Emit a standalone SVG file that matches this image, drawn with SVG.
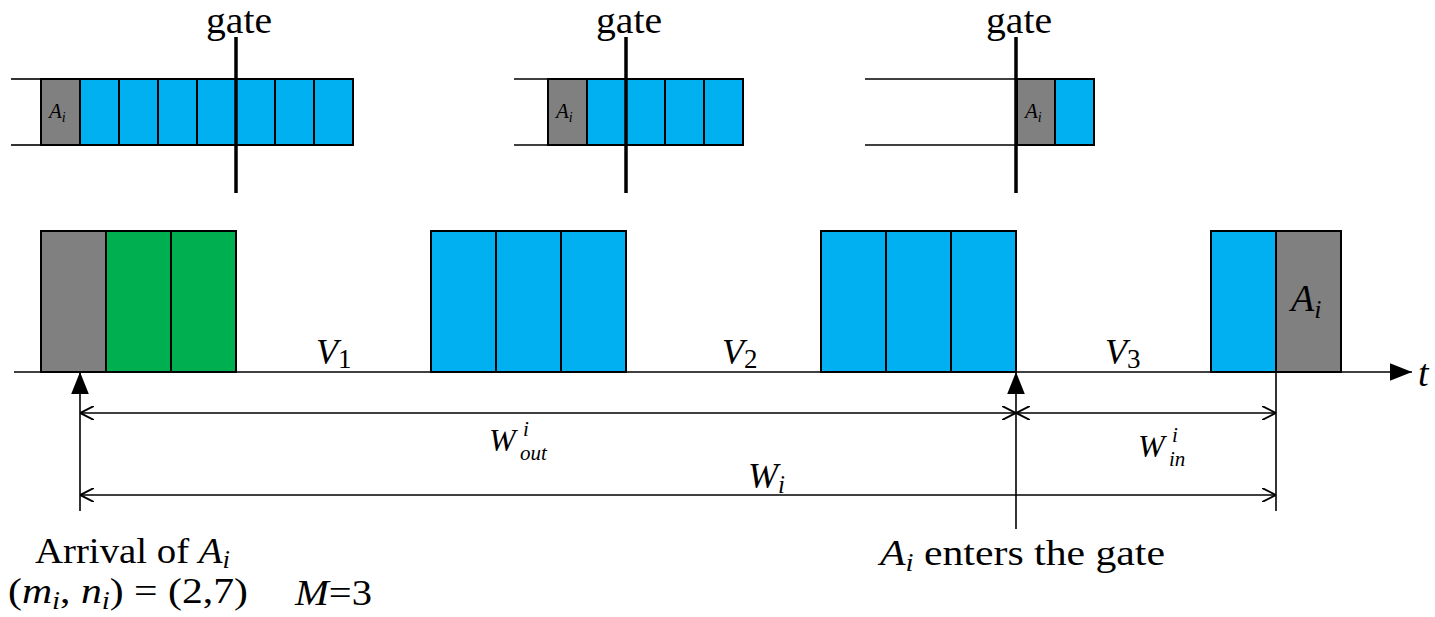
<svg xmlns="http://www.w3.org/2000/svg" width="1435" height="617" viewBox="0 0 1435 617">
<style>
.b{fill:#00b0f0;stroke:#000;stroke-width:2}
.g{fill:#808080;stroke:#000;stroke-width:2}
.gr{fill:#00b050;stroke:#000;stroke-width:2}
.ln{stroke:#000;stroke-width:1.6;fill:none}
.gate{stroke:#000;stroke-width:3.5}
.it{font-style:italic}
.gt{font-size:37px}
</style>
<defs>
<marker id="tri" viewBox="0 0 10 10" refX="10" refY="5" markerWidth="22" markerHeight="22" markerUnits="userSpaceOnUse" orient="auto"><path d="M0,1 L10,5 L0,9 z" fill="#000"/></marker>
<marker id="open" viewBox="0 0 10 10" refX="10" refY="5" markerWidth="14" markerHeight="14" markerUnits="userSpaceOnUse" orient="auto-start-reverse"><path d="M0,0 L10,5 L0,10" fill="none" stroke="#000" stroke-width="1.4"/></marker>
</defs>
<rect width="1435" height="617" fill="#fff"/>
<g style="font-family:'Liberation Serif',serif" fill="#000">

<g id="queue1">
<line class="ln" x1="11" y1="79" x2="41" y2="79"/><line class="ln" x1="11" y1="145" x2="41" y2="145"/>
<rect class="g" x="41" y="79" width="39" height="66"/>
<rect class="b" x="80" y="79" width="39" height="66"/><rect class="b" x="119" y="79" width="39" height="66"/><rect class="b" x="158" y="79" width="39" height="66"/><rect class="b" x="197" y="79" width="39" height="66"/><rect class="b" x="236" y="79" width="39" height="66"/><rect class="b" x="275" y="79" width="39" height="66"/><rect class="b" x="314" y="79" width="39" height="66"/>
<text x="49" y="118" class="it" font-size="21">A<tspan font-size="14" dy="4">i</tspan></text>
<line class="gate" x1="236" y1="37" x2="236" y2="193"/>
<text x="239" y="33" class="gt" text-anchor="middle" textLength="66" lengthAdjust="spacingAndGlyphs">gate</text>
</g>

<g id="queue2">
<line class="ln" x1="514" y1="79" x2="548" y2="79"/><line class="ln" x1="514" y1="145" x2="548" y2="145"/>
<rect class="g" x="548" y="79" width="39" height="66"/>
<rect class="b" x="587" y="79" width="39" height="66"/><rect class="b" x="626" y="79" width="39" height="66"/><rect class="b" x="665" y="79" width="39" height="66"/><rect class="b" x="704" y="79" width="39" height="66"/>
<text x="556" y="118" class="it" font-size="21">A<tspan font-size="14" dy="4">i</tspan></text>
<line class="gate" x1="626" y1="37" x2="626" y2="193"/>
<text x="629" y="33" class="gt" text-anchor="middle" textLength="66" lengthAdjust="spacingAndGlyphs">gate</text>
</g>

<g id="queue3">
<line class="ln" x1="865" y1="79" x2="1017" y2="79"/><line class="ln" x1="865" y1="145" x2="1017" y2="145"/>
<rect class="g" x="1017" y="79" width="38" height="66"/>
<rect class="b" x="1055" y="79" width="39" height="66"/>
<text x="1025" y="118" class="it" font-size="21">A<tspan font-size="14" dy="4">i</tspan></text>
<line class="gate" x1="1016" y1="37" x2="1016" y2="193"/>
<text x="1019" y="33" class="gt" text-anchor="middle" textLength="66" lengthAdjust="spacingAndGlyphs">gate</text>
</g>

<g id="block1">
<rect class="g" x="41" y="231" width="65" height="141"/>
<rect class="gr" x="106" y="231" width="65" height="141"/>
<rect class="gr" x="171" y="231" width="65" height="141"/>
</g>
<g id="block2">
<rect class="b" x="431" y="231" width="65" height="141"/><rect class="b" x="496" y="231" width="65" height="141"/><rect class="b" x="561" y="231" width="65" height="141"/>
</g>
<g id="block3">
<rect class="b" x="821" y="231" width="65" height="141"/><rect class="b" x="886" y="231" width="65" height="141"/><rect class="b" x="951" y="231" width="65" height="141"/>
</g>
<g id="block4">
<rect class="b" x="1211" y="231" width="65" height="141"/>
<rect class="g" x="1276" y="231" width="65" height="141"/>
<text x="1291" y="311" class="it" font-size="38">A<tspan font-size="26" dy="7">i</tspan></text>
</g>

<g id="labels">
<text x="316" y="364" class="it" font-size="36">V<tspan font-style="normal" font-size="27" dy="4">1</tspan></text>
<text x="722" y="364" class="it" font-size="36">V<tspan font-style="normal" font-size="27" dy="4">2</tspan></text>
<text x="1105" y="364" class="it" font-size="36">V<tspan font-style="normal" font-size="27" dy="4">3</tspan></text>
<text x="1418" y="386" class="it" font-size="38">t</text>
<text x="489" y="451" class="it" font-size="32">W</text>
<text x="523" y="436" class="it" font-size="21">i</text>
<text x="520" y="460" class="it" font-size="21">out</text>
<text x="1138" y="457" class="it" font-size="32">W</text>
<text x="1172" y="442" class="it" font-size="21">i</text>
<text x="1169" y="466" class="it" font-size="21">in</text>
<text x="748" y="488" class="it" font-size="36">W<tspan font-size="25" dy="5">i</tspan></text>
<text x="35" y="563" font-size="36" textLength="195" lengthAdjust="spacingAndGlyphs">Arrival of <tspan class="it">A</tspan><tspan class="it" font-size="25" dy="5">i</tspan></text>
<text x="8" y="603" font-size="36" textLength="240" lengthAdjust="spacingAndGlyphs">(<tspan class="it">m</tspan><tspan class="it" font-size="25" dy="6">i</tspan><tspan dy="-6">, </tspan><tspan class="it">n</tspan><tspan class="it" font-size="25" dy="6">i</tspan><tspan dy="-6">) = (2,7)</tspan></text>
<text x="295" y="605" font-size="36" textLength="77" lengthAdjust="spacingAndGlyphs"><tspan class="it">M</tspan>=3</text>
<text x="880" y="565" font-size="36" textLength="285" lengthAdjust="spacingAndGlyphs"><tspan class="it">A</tspan><tspan class="it" font-size="25" dy="6">i</tspan><tspan dy="-6"> enters the gate</tspan></text>
</g>
</g>

<g id="connectors">
<line class="ln" x1="14" y1="372" x2="1412" y2="372" marker-end="url(#tri)"/>
<line class="ln" x1="80" y1="511" x2="80" y2="372" marker-end="url(#tri)"/>
<line class="ln" x1="1016" y1="529" x2="1016" y2="372" marker-end="url(#tri)"/>
<line class="ln" x1="1276" y1="372" x2="1276" y2="511"/>
<line class="ln" x1="80" y1="413" x2="1016" y2="413" marker-start="url(#open)" marker-end="url(#open)"/>
<line class="ln" x1="1016" y1="413" x2="1276" y2="413" marker-start="url(#open)" marker-end="url(#open)"/>
<line class="ln" x1="80" y1="495" x2="1276" y2="495" marker-start="url(#open)" marker-end="url(#open)"/>
</g>
</svg>
